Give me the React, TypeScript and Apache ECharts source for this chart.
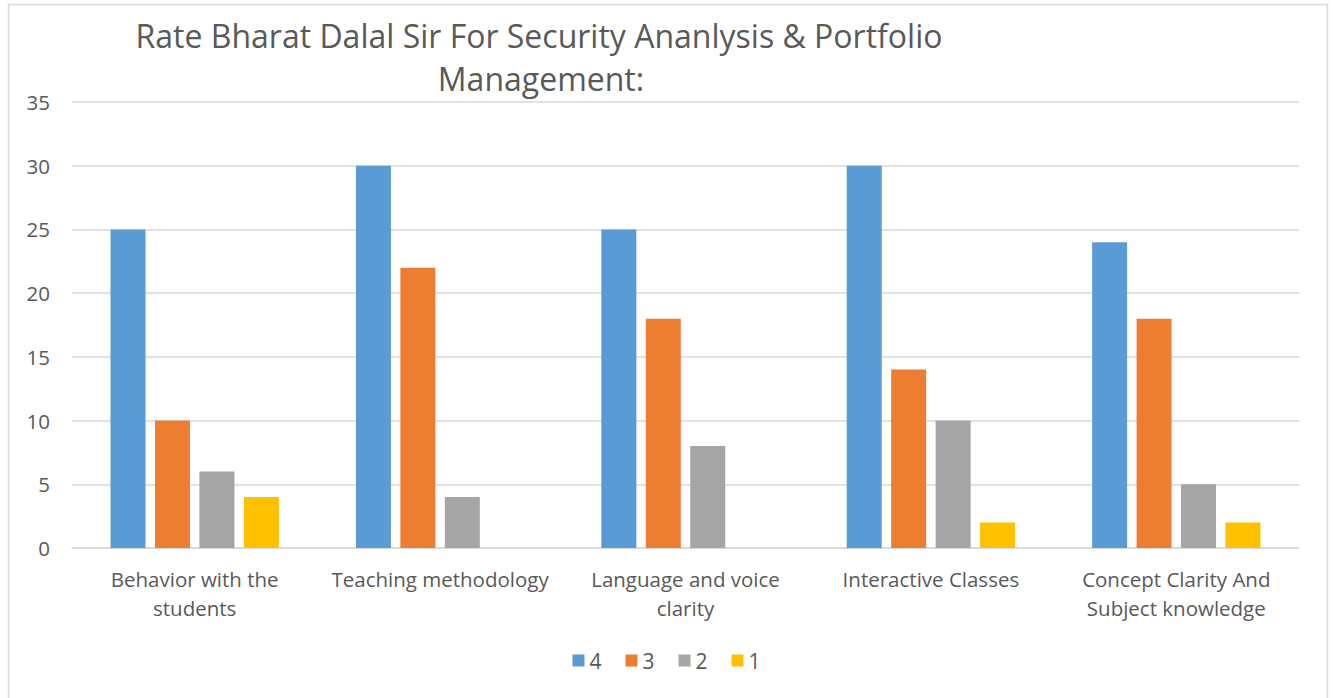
import React, { useEffect, useRef } from "react";
import * as echarts from "echarts";

const categories = [
  "Behavior with the\nstudents",
  "Teaching methodology",
  "Language and voice\nclarity",
  "Interactive Classes",
  "Concept Clarity And\nSubject knowledge",
];
const seriesNames = ["4", "3", "2", "1"];
const rating4 = [25, 30, 25, 30, 24];
const rating3 = [10, 22, 18, 14, 18];
const rating2 = [6, 4, 8, 10, 5];
const rating1 = [4, 0, 0, 2, 2];
const colors = ["#5B9BD5", "#ED7D31", "#A5A5A5", "#FFC000"];
const titleLines = [
  "Rate Bharat Dalal Sir For Security Ananlysis & Portfolio",
  "Management:",
];

const FONT = "'Open Sans', 'Noto Sans', sans-serif";
const TXT = "#595959";

export default function App() {
  const ref = useRef<HTMLDivElement>(null);
  useEffect(() => {
    if (!ref.current) return;
    const chart = echarts.init(ref.current, undefined, { renderer: "svg" });
    const data = [rating4, rating3, rating2, rating1];
    chart.setOption({
      animation: false,
      backgroundColor: "#ffffff",
      textStyle: { fontFamily: FONT },
      graphic: [
        {
          type: "rect",
          shape: { x: 8.5, y: 4.5, width: 1319, height: 720 },
          style: { fill: "none", stroke: "#d9d9d9", lineWidth: 1.5 },
          silent: true,
        },
        {
          type: "text",
          x: 539,
          y: 35,
          style: {
            text: titleLines[0],
            fontFamily: FONT,
            fontSize: 32,
            fill: TXT,
            textAlign: "center",
            textVerticalAlign: "middle",
          },
        },
        {
          type: "text",
          x: 541,
          y: 78,
          style: {
            text: titleLines[1],
            fontFamily: FONT,
            fontSize: 32,
            fill: TXT,
            textAlign: "center",
            textVerticalAlign: "middle",
          },
        },
      ],
      grid: { left: 72, right: 34, top: 102, bottom: 150, containLabel: false },
      legend: {
        bottom: 22,
        left: "center",
        itemWidth: 12,
        itemHeight: 12,
        itemGap: 24,
        icon: "rect",
        textStyle: { fontSize: 21, color: TXT, fontFamily: FONT },
        data: seriesNames,
      },
      xAxis: {
        type: "category",
        data: categories,
        axisLine: { lineStyle: { color: "#d9d9d9", width: 1.5 } },
        axisTick: { show: false },
        axisLabel: {
          fontSize: 20.5,
          color: TXT,
          fontFamily: FONT,
          lineHeight: 29,
          margin: 16,
          interval: 0,
        },
      },
      yAxis: {
        type: "value",
        min: 0,
        max: 35,
        interval: 5,
        axisLine: { show: false },
        axisTick: { show: false },
        splitLine: { lineStyle: { color: "#d9d9d9", width: 1.5 } },
        axisLabel: { fontSize: 20.5, color: TXT, fontFamily: FONT, margin: 22 },
      },
      series: seriesNames.map((name, i) => ({
        name,
        type: "bar",
        data: data[i],
        barWidth: 35,
        barGap: "27%",
        itemStyle: { color: colors[i] },
      })),
    });
    return () => chart.dispose();
  }, []);
  return (
    <div
      ref={ref}
      style={{ position: "absolute", left: 0, top: 0, width: 1333, height: 698 }}
    />
  );
}
